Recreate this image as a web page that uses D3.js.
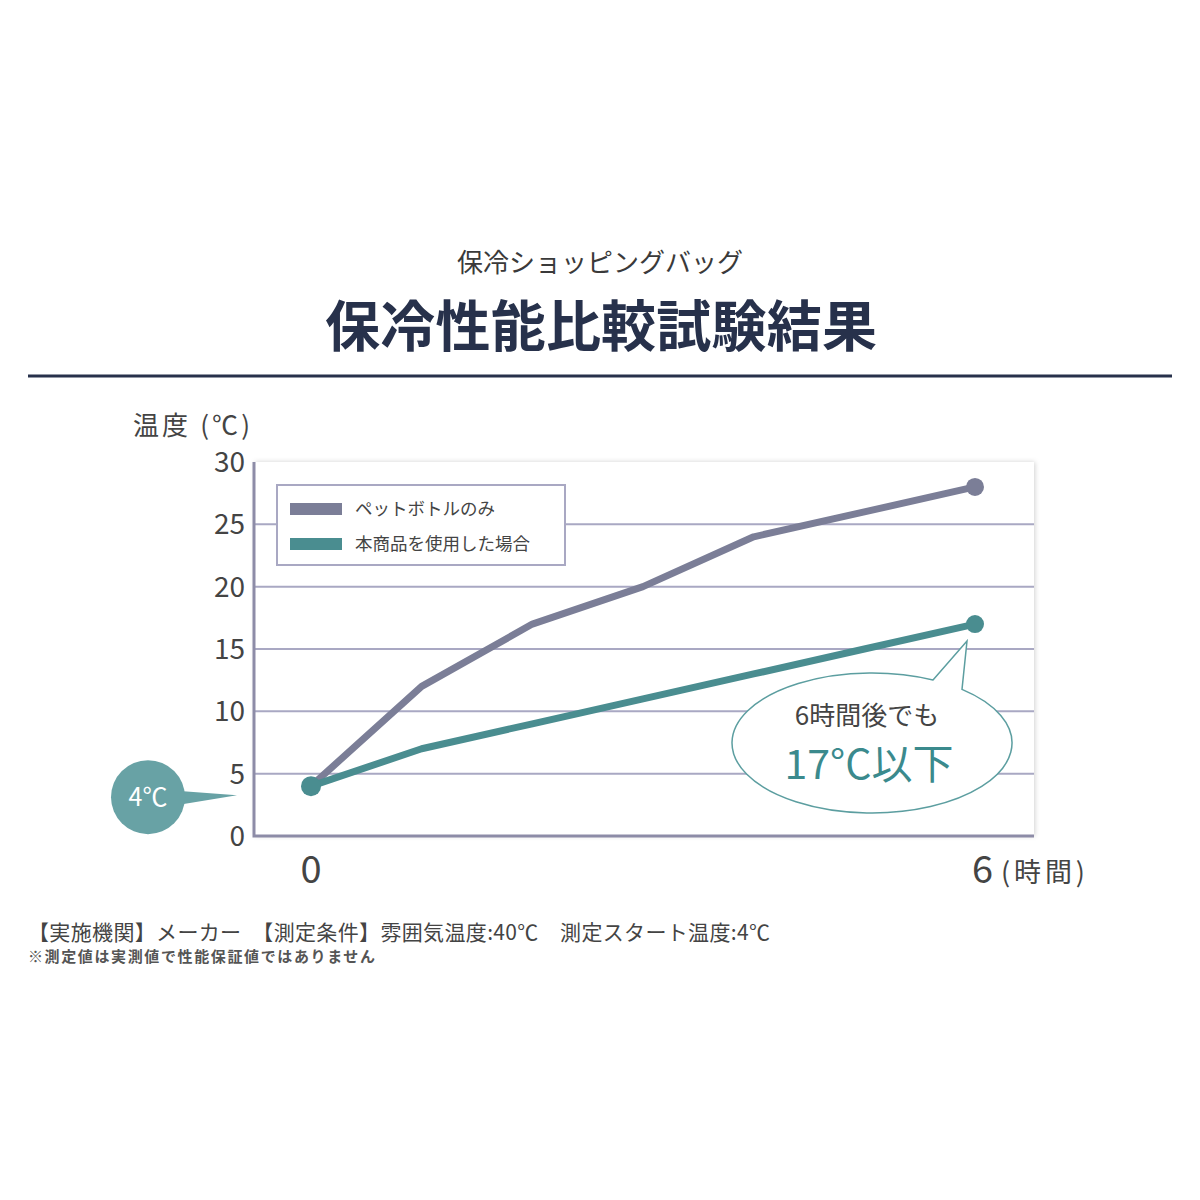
<!DOCTYPE html>
<html>
<head>
<meta charset="utf-8">
<script src="https://cdn.jsdelivr.net/npm/d3@7"></script>
<style>
  body { margin: 0; background: #fff; }
  text { font-family: 'Noto Sans CJK JP', 'Noto Sans', sans-serif; }
</style>
</head>
<body>
<div id="wrapper"></div>
<script>
// data
const hours = [0, 1, 2, 3, 4, 5, 6];
const bottleOnly = [4, 12, 17, 20, 24, 26, 28];
const withBag = [4, 7, 9, 11, 13, 15, 17];
const seriesNames = ['ペットボトルのみ', '本商品を使用した場合'];
const yTicks = [0, 5, 10, 15, 20, 25, 30];
const footerLines = [
    '【実施機関】メーカー　【測定条件】雰囲気温度:40℃　測定スタート温度:4℃',
    '※測定値は実測値で性能保証値ではありません'
];

const grayColor = '#7b7e97';
const tealColor = '#4a8d90';
const navy = '#27314b';

const width = 1200;
let dimensions = {
    width: width,
    height: 1200,
    plot: { left: 254, right: 1034, top: 462, bottom: 836 },
};

const svg = d3.select('#wrapper')
    .append('svg')
    .attr('width', dimensions.width)
    .attr('height', dimensions.height);

const defs = svg.append('defs');
const shadow = defs.append('filter')
    .attr('id', 'shadow')
    .attr('x', '-5%').attr('y', '-5%')
    .attr('width', '110%').attr('height', '110%');
shadow.append('feDropShadow')
    .attr('dx', 1).attr('dy', 0)
    .attr('stdDeviation', 2.5)
    .attr('flood-color', '#000')
    .attr('flood-opacity', 0.18);

// titles
svg.append('text')
    .attr('x', 600).attr('y', 272)
    .attr('text-anchor', 'middle')
    .attr('font-size', 26)
    .attr('fill', '#3a3a3a')
    .text('保冷ショッピングバッグ');

svg.append('text')
    .attr('x', 601).attr('y', 346)
    .attr('text-anchor', 'middle')
    .attr('font-size', 55)
    .attr('font-weight', 700)
    .attr('fill', navy)
    .attr('textLength', 552)
    .text('保冷性能比較試験結果');

svg.append('line')
    .attr('x1', 28).attr('x2', 1172)
    .attr('y1', 376).attr('y2', 376)
    .attr('stroke', navy)
    .attr('stroke-width', 3);

// scales
const x = d3.scaleLinear()
    .domain([0, 6])
    .range([311, 975]);

const y = d3.scaleLinear()
    .domain([0, 30])
    .range([dimensions.plot.bottom, dimensions.plot.top]);

// plot background
svg.append('rect')
    .attr('x', dimensions.plot.left)
    .attr('y', dimensions.plot.top)
    .attr('width', dimensions.plot.right - dimensions.plot.left)
    .attr('height', dimensions.plot.bottom - dimensions.plot.top)
    .attr('fill', '#fff')
    .attr('filter', 'url(#shadow)');

// grid
svg.append('g')
    .selectAll('line')
    .data(yTicks.filter(d => d > 0 && d < 30))
    .join('line')
    .attr('x1', dimensions.plot.left)
    .attr('x2', dimensions.plot.right)
    .attr('y1', d => y(d))
    .attr('y2', d => y(d))
    .attr('stroke', '#a9a8c3')
    .attr('stroke-width', 2);

// axes lines
svg.append('path')
    .attr('d', `M${dimensions.plot.left},${dimensions.plot.top} V${dimensions.plot.bottom} H${dimensions.plot.right}`)
    .attr('fill', 'none')
    .attr('stroke', '#8d8ca7')
    .attr('stroke-width', 3);

// y tick labels
svg.append('g')
    .selectAll('text')
    .data(yTicks)
    .join('text')
    .attr('x', 245)
    .attr('y', d => y(d) + 10)
    .attr('text-anchor', 'end')
    .attr('font-size', 28)
    .attr('fill', '#444')
    .attr('font-family', 'Lato, sans-serif')
    .text(d => d);

svg.append('text')
    .attr('x', 133).attr('y', 435)
    .attr('font-size', 26)
    .attr('fill', '#444')
    .attr('textLength', 117)
    .text('温度 (℃)');

// x labels
svg.append('text')
    .attr('x', x(0)).attr('y', 883)
    .attr('text-anchor', 'middle')
    .attr('font-size', 38)
    .attr('font-family', 'Lato, sans-serif')
    .attr('fill', '#444')
    .text('0');

svg.append('text')
    .attr('x', x(6) - 3).attr('y', 883)
    .attr('font-size', 38)
    .attr('font-family', 'Lato, sans-serif')
    .attr('fill', '#444')
    .text('6');

svg.append('text')
    .attr('x', x(6) + 26).attr('y', 882)
    .attr('font-size', 27)
    .attr('fill', '#444')
    .attr('textLength', 84)
    .text('(時間)');

// lines
const line = d3.line()
    .x((d, i) => x(hours[i]))
    .y(d => y(d));

svg.append('path')
    .datum(bottleOnly)
    .attr('d', line)
    .attr('fill', 'none')
    .attr('stroke', grayColor)
    .attr('stroke-width', 7)
    .attr('stroke-linejoin', 'round');

svg.append('path')
    .datum(withBag)
    .attr('d', line)
    .attr('fill', 'none')
    .attr('stroke', tealColor)
    .attr('stroke-width', 7)
    .attr('stroke-linejoin', 'round');

// end dots
const last = hours.length - 1;
svg.append('circle')
    .attr('cx', x(hours[last])).attr('cy', y(bottleOnly[last]))
    .attr('r', 9).attr('fill', grayColor);
svg.append('circle')
    .attr('cx', x(hours[last])).attr('cy', y(withBag[last]))
    .attr('r', 9).attr('fill', tealColor);
svg.append('circle')
    .attr('cx', x(hours[0])).attr('cy', y(withBag[0]))
    .attr('r', 10).attr('fill', tealColor);

// legend
const legend = svg.append('g');
legend.append('rect')
    .attr('x', 277).attr('y', 485)
    .attr('width', 288).attr('height', 80)
    .attr('fill', '#fff')
    .attr('stroke', '#a9a8c3')
    .attr('stroke-width', 2);

const legendRows = legend.selectAll('g')
    .data(seriesNames)
    .join('g')
    .attr('transform', (d, i) => `translate(290, ${509 + i * 35})`);
legendRows.append('rect')
    .attr('x', 0).attr('y', -6)
    .attr('width', 52).attr('height', 12)
    .attr('fill', (d, i) => i === 0 ? grayColor : tealColor);
legendRows.append('text')
    .attr('x', 65).attr('y', 6)
    .attr('font-size', 17.5)
    .attr('fill', '#444')
    .text(d => d);

// start bubble 4°C
const startY = y(withBag[0]) + 11;
svg.append('path')
    .attr('d', `M170,${startY - 7} L237,${startY - 2} L170,${startY + 9} Z`)
    .attr('fill', '#68a2a5');
svg.append('circle')
    .attr('cx', 148).attr('cy', startY)
    .attr('r', 37)
    .attr('fill', '#68a2a5');
svg.append('text')
    .attr('x', 148).attr('y', startY + 9)
    .attr('text-anchor', 'middle')
    .attr('font-size', 25)
    .attr('fill', '#fff')
    .text('4℃');

// callout
const tipX = x(6) - 8, tipY = y(17) + 17;
const cx = 872, cy = 743, rx = 140, ry = 70;
const onEllipse = px => [px, cy - ry * Math.sqrt(1 - ((px - cx) / rx) ** 2)];
const [lx, ly] = onEllipse(933);
const [rx2, ry2] = onEllipse(962);
svg.append('path')
    .attr('d', `M${lx},${ly} L${tipX},${tipY} L${rx2},${ry2} A${rx} ${ry} 0 1 1 ${lx} ${ly} Z`)
    .attr('fill', '#fff')
    .attr('stroke', '#5c9ea0')
    .attr('stroke-width', 1.5);

svg.append('text')
    .attr('x', 867).attr('y', 725)
    .attr('text-anchor', 'middle')
    .attr('font-size', 26)
    .attr('fill', '#444')
    .text('6時間後でも');

svg.append('text')
    .attr('x', 869).attr('y', 779)
    .attr('text-anchor', 'middle')
    .attr('font-size', 41)
    .attr('fill', '#3b8a8d')
    .text('17°C以下');

// footer
svg.append('text')
    .attr('x', 28).attr('y', 940)
    .attr('font-size', 21)
    .attr('fill', '#444')
    .attr('textLength', 742)
    .text(footerLines[0]);

svg.append('text')
    .attr('x', 28).attr('y', 962)
    .attr('font-size', 15)
    .attr('font-weight', 700)
    .attr('fill', '#555')
    .attr('textLength', 347)
    .text(footerLines[1]);
</script>
</body>
</html>
